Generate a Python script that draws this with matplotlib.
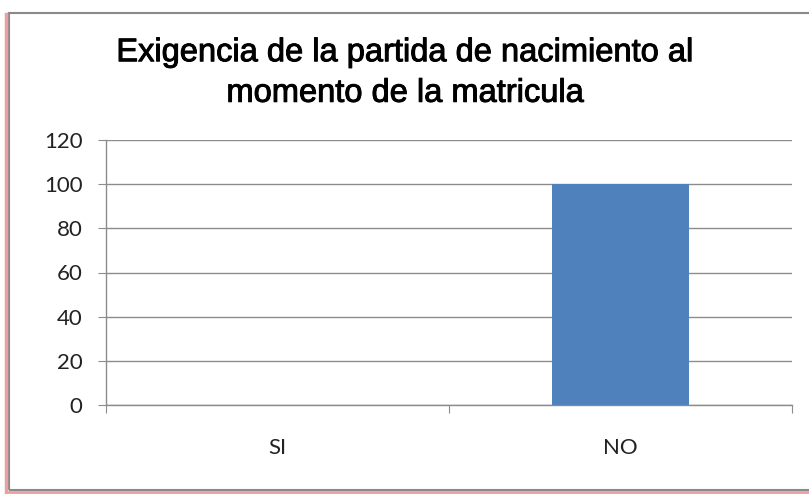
import matplotlib.pyplot as plt
import matplotlib.patheffects as pe
from matplotlib.patches import Rectangle
from matplotlib.lines import Line2D

# Data
categories = ['SI', 'NO']
values = [0, 100]
y_ticks = [0, 20, 40, 60, 80, 100, 120]
title = 'Exigencia de la partida de nacimiento al\nmomento de la matricula'

W, H = 809, 494
fig = plt.figure(figsize=(W / 100, H / 100), dpi=100)

# outer chart frame with a faint red shadow on the left / bottom
fig.add_artist(Line2D([6 / W, 6 / W], [1 - 14 / H, 1 - 492 / H], color='#e8a0a0', lw=2.5))
fig.add_artist(Line2D([6 / W, 1], [1 - 492 / H, 1 - 492 / H], color='#e8a0a0', lw=2.0))
fig.add_artist(Rectangle((9 / W, 1 - 490 / H), 1.0, (490 - 13) / H,
                         fill=False, edgecolor='#8a8a8a', lw=1.5))

# plot area
left, right, top, bottom = 106, 792, 140, 405
ax = fig.add_axes([left / W, 1 - bottom / H, (right - left) / W, (bottom - top) / H])

x = range(len(categories))
ax.bar(x, values, width=0.4, color='#4F81BD', zorder=3)

ax.set_xlim(-0.5, len(categories) - 0.5)
ax.set_ylim(0, 120)
ax.set_yticks(y_ticks)
ax.set_yticklabels([str(v) for v in y_ticks], fontfamily='Lato', fontsize=16, color='#222222')
ax.grid(axis='y', color='#8c8c8c', lw=1.0, zorder=0)

# category boundary ticks, labels centred between them
ax.set_xticks([-0.5, 0.5, 1.5])
ax.set_xticklabels([])
ax.set_xticks(list(x), minor=True)
ax.set_xticklabels(categories, minor=True, fontfamily='Lato', fontsize=16, color='#222222')
ax.tick_params(axis='x', which='minor', length=0, pad=24)
ax.tick_params(axis='x', which='major', length=6, color='#8c8c8c', direction='out')
ax.tick_params(axis='y', length=6, color='#8c8c8c', direction='out', pad=11)

for s in ['top', 'right']:
    ax.spines[s].set_visible(False)
for s in ['left', 'bottom']:
    ax.spines[s].set_color('#8c8c8c')
    ax.spines[s].set_linewidth(1.0)

# regular Arial-like title, slightly thickened to mimic the heavy rendering
fig.text(405 / W, 1 - 73 / H, title, ha='center', va='center',
         fontfamily='Liberation Sans', fontsize=23.5, linespacing=1.4, color='#000000',
         path_effects=[pe.withStroke(linewidth=0.7, foreground='black')])

fig.savefig('out.png', dpi=100, facecolor='white')
